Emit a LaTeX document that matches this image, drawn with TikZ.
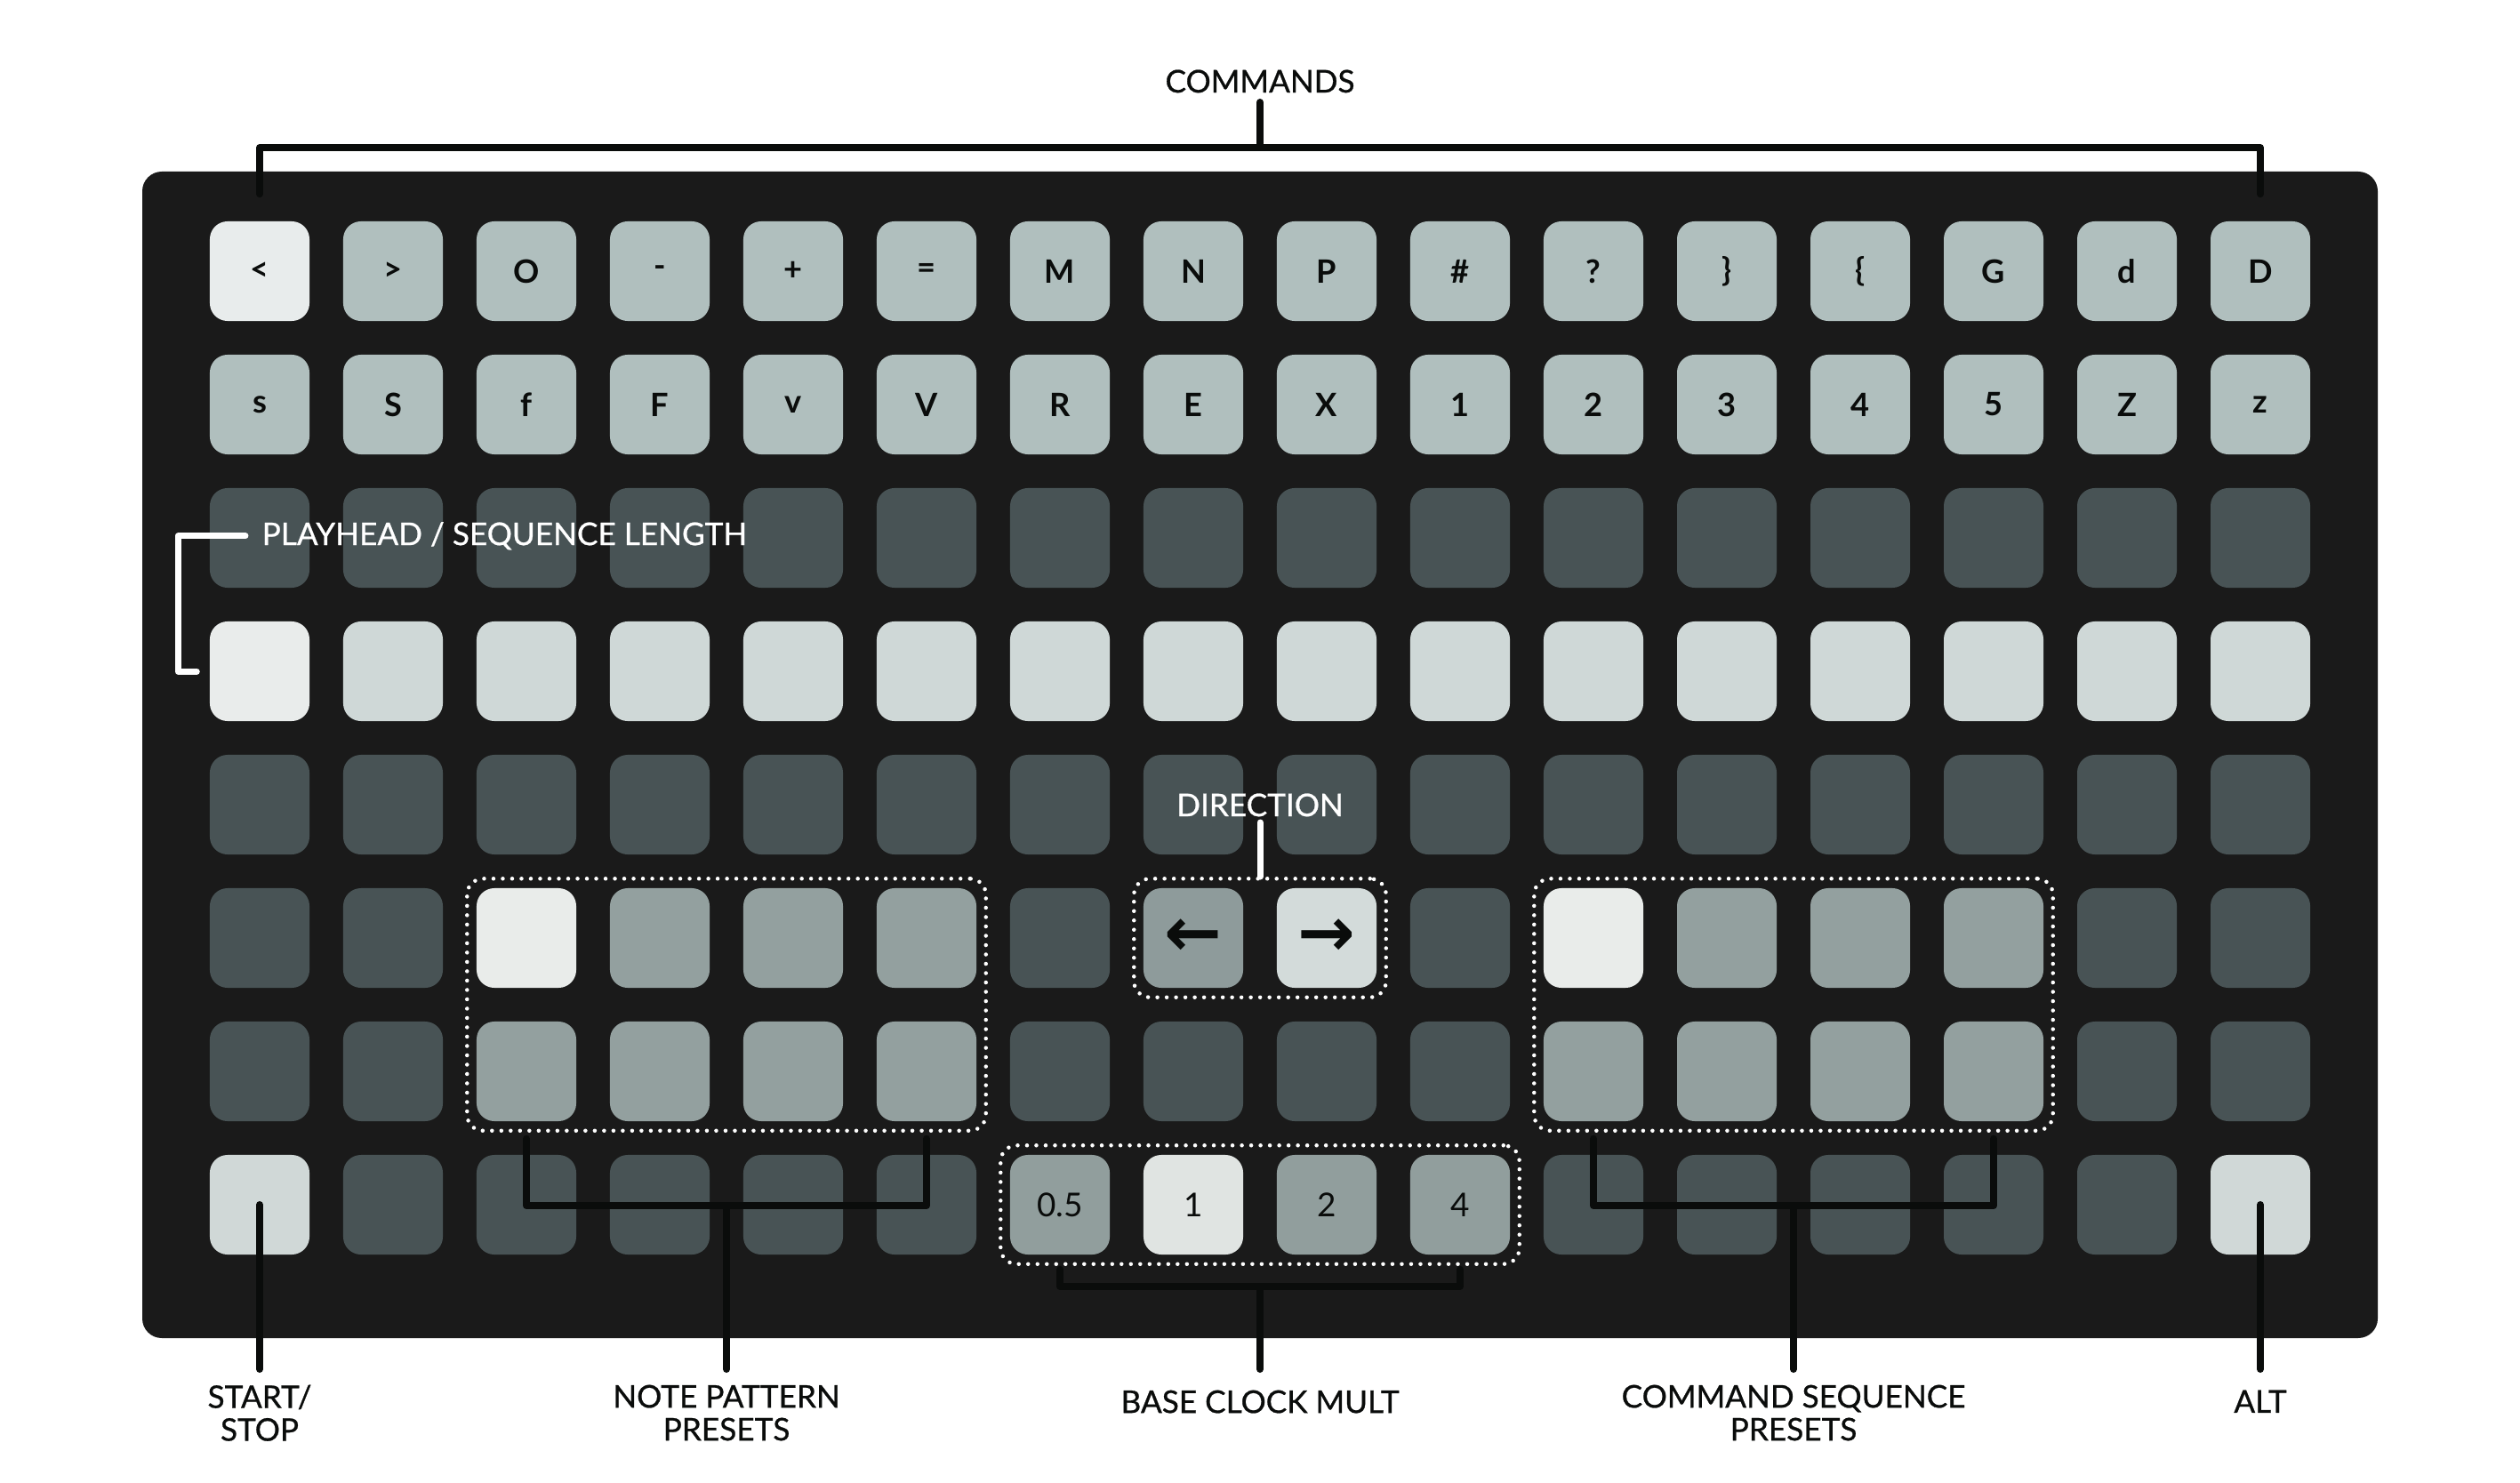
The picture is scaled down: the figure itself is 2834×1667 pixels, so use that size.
\documentclass[tikz,border=0pt]{standalone}
\usepackage{fontspec}
\setmainfont{Lato}
\newfontfamily\symfont{DejaVu Sans}
\newfontfamily\calloutfont[FakeBold=0.7]{Lato}
\usetikzlibrary{positioning,fit}

\definecolor{panel}{HTML}{1A1A1A}
\definecolor{ink}{HTML}{0A0C0B}
\definecolor{paddim}{HTML}{485355}
\definecolor{padcmd}{HTML}{B0BFBE}
\definecolor{padcmdon}{HTML}{E8ECEC}
\definecolor{padlen}{HTML}{CFD8D7}
\definecolor{padhead}{HTML}{E9ECEB}
\definecolor{padpre}{HTML}{93A09F}
\definecolor{padpreon}{HTML}{E9ECEA}
\definecolor{paddirl}{HTML}{8E9B9B}
\definecolor{paddirr}{HTML}{D3DBDA}
\definecolor{padclk}{HTML}{919E9D}
\definecolor{padclkon}{HTML}{E0E4E2}
\definecolor{padbtn}{HTML}{D0D8D7}

\tikzset{
  pad/.style={rectangle, rounded corners=0.2cm, minimum size=1.12cm, inner sep=0pt,
    text=ink, font=\bfseries\fontsize{10.3}{12}\selectfont},
  dim/.style={pad, fill=paddim},
  cmd/.style={pad, fill=padcmd},
  cmdon/.style={pad, fill=padcmdon},
  len/.style={pad, fill=padlen},
  head/.style={pad, fill=padhead},
  pre/.style={pad, fill=padpre},
  preon/.style={pad, fill=padpreon},
  dirl/.style={pad, fill=paddirl, font=\symfont\bfseries\fontsize{22}{22}\selectfont},
  dirr/.style={pad, fill=paddirr, font=\symfont\bfseries\fontsize{22}{22}\selectfont},
  clk/.style={pad, fill=padclk, font=\fontsize{10.5}{12}\selectfont},
  clkon/.style={pad, fill=padclkon, font=\fontsize{10.5}{12}\selectfont},
  btn/.style={pad, fill=padbtn},
  group/.style={draw=white, inner sep=0.1cm, rounded corners=0.18cm, line width=0.045cm,
    line cap=round, dash pattern=on 0pt off 0.105cm},
  callout/.style={inner sep=0pt, align=center, text=ink, font=\calloutfont\fontsize{10}{10.5}\selectfont},
  bracket/.style={draw=ink, line width=0.08cm, line cap=round, line join=round},
  pointer/.style={draw=white, line width=0.07cm, line cap=round, line join=round},
}

\begin{document}
\begin{tikzpicture}[x=0.01cm, y=-0.01cm]
\useasboundingbox (0,0) rectangle (2834,1667);
\fill[panel, rounded corners=0.22cm] (160,193) rectangle (2674,1505);

% command rows
\foreach \t/\s [count=\c from 0] in {</cmdon,>/cmd,O/cmd,-/cmd,+/cmd,=/cmd,M/cmd,N/cmd,P/cmd,\#/cmd,?/cmd,\}/cmd,\{/cmd,G/cmd,d/cmd,D/cmd}
  \node[\s] (k0-\c) at ({292+150*\c},305) {\t};
\foreach \t [count=\c from 0] in {s,S,f,F,v,V,R,E,X,1,2,3,4,5,Z,z}
  \node[cmd] (k1-\c) at ({292+150*\c},455) {\t};

% playhead row and empty rows
\foreach \c in {0,...,15} {
  \node[dim] (k2-\c) at ({292+150*\c},605) {};
  \node[dim] (k4-\c) at ({292+150*\c},905) {};
}
\foreach \s [count=\c from 0] in {head,len,len,len,len,len,len,len,len,len,len,len,len,len,len,len}
  \node[\s] (k3-\c) at ({292+150*\c},755) {};

% presets, direction, clock
\foreach \s/\t [count=\c from 0] in {dim/{},dim/{},preon/{},pre/{},pre/{},pre/{},dim/{},dirl/←,dirr/→,dim/{},preon/{},pre/{},pre/{},pre/{},dim/{},dim/{}}
  \node[\s] (k5-\c) at ({292+150*\c},1055) {\t};
\foreach \s [count=\c from 0] in {dim,dim,pre,pre,pre,pre,dim,dim,dim,dim,pre,pre,pre,pre,dim,dim}
  \node[\s] (k6-\c) at ({292+150*\c},1205) {};
\foreach \s/\t [count=\c from 0] in {btn/{},dim/{},dim/{},dim/{},dim/{},dim/{},clk/0.5,clkon/1,clk/2,clk/4,dim/{},dim/{},dim/{},dim/{},dim/{},btn/{}}
  \node[\s] (k7-\c) at ({292+150*\c},1355) {\t};

% dotted groups
\node[group, fit=(k5-2)(k6-5)] (npgrp) {};
\node[group, fit=(k5-7)(k5-8)] (dirgrp) {};
\node[group, fit=(k5-10)(k6-13)] (csgrp) {};
\node[group, fit=(k7-6)(k7-9)] (bcgrp) {};

% labels
\node[callout, anchor=south] (cmdlbl) at (1417,105) {COMMANDS};
\node[callout, text=white, anchor=south west] (phlbl) at (294,619) {PLAYHEAD / SEQUENCE LENGTH};
\node[callout, text=white, anchor=south] (dirlbl) at (1417,919) {DIRECTION};
\node[callout, anchor=north] (sslbl) at (292,1557) {START/\\STOP};
\node[callout, anchor=north] (nplbl) at (817,1557) {NOTE PATTERN\\PRESETS};
\node[callout, anchor=north] (bclbl) at (1417,1563) {BASE CLOCK MULT};
\node[callout, anchor=north] (cslbl) at (2017,1557) {COMMAND SEQUENCE\\PRESETS};
\node[callout, anchor=north] (altlbl) at (2542,1563) {ALT};

% brackets
\coordinate (cmdbar) at (1417,166);
\draw[bracket] ([yshift=0.3cm]k0-0.north) |- (cmdbar) -| ([yshift=0.3cm]k0-15.north);
\draw[bracket] (cmdbar) -- ([yshift=-0.1cm]cmdlbl.south);

\draw[pointer] ([xshift=-0.18cm]phlbl.west) -| ([xshift=-0.35cm]k3-0.west) -- ([xshift=-0.14cm]k3-0.west);
\draw[pointer] ([yshift=-0.06cm]dirlbl.south) -- (dirgrp.north);

\draw[bracket] (k7-0.center) -- ([yshift=0.17cm]sslbl.north);

\coordinate (npbar) at (817,1356);
\draw[bracket] ([yshift=-0.19cm]k6-2.south) |- (npbar) -| ([yshift=-0.19cm]k6-5.south);
\draw[bracket] (npbar) -- ([yshift=0.17cm]nplbl.north);

\coordinate (bcbar) at (1417,1447);
\draw[bracket] ([yshift=-0.16cm]k7-6.south) |- (bcbar) -| ([yshift=-0.16cm]k7-9.south);
\draw[bracket] (bcbar) -- ([yshift=0.23cm]bclbl.north);

\coordinate (csbar) at (2017,1356);
\draw[bracket] ([yshift=-0.19cm]k6-10.south) |- (csbar) -| ([yshift=-0.19cm]k6-13.south);
\draw[bracket] (csbar) -- ([yshift=0.17cm]cslbl.north);

\draw[bracket] (k7-15.center) -- ([yshift=0.23cm]altlbl.north);
\end{tikzpicture}
\end{document}
